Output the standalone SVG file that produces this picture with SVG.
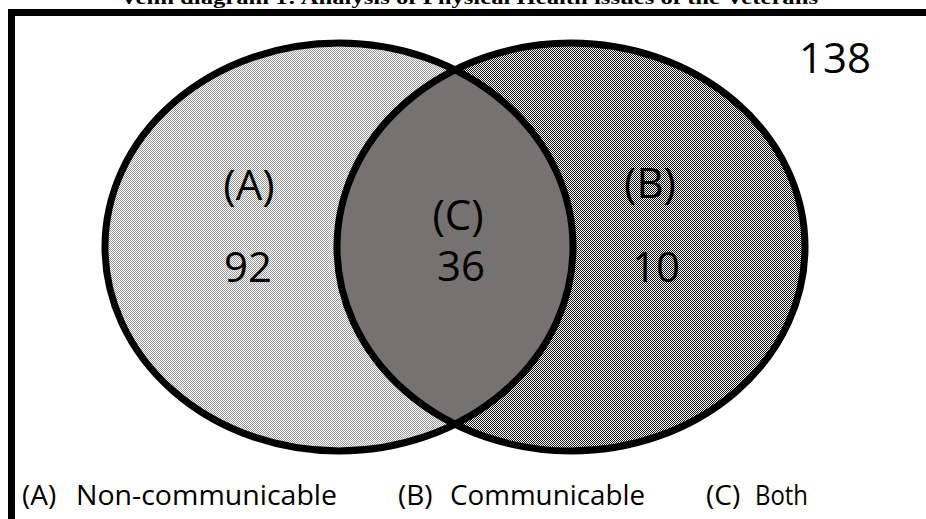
<svg xmlns="http://www.w3.org/2000/svg" width="926" height="519" viewBox="0 0 926 519">
<defs>
<pattern id="pA" width="2" height="2" patternUnits="userSpaceOnUse">
<rect width="2" height="2" fill="#ffffff"/>
<rect width="1" height="1" fill="#9a9a9a"/>
<rect x="1" y="1" width="1" height="1" fill="#9a9a9a"/>
</pattern>
<pattern id="pB" width="2" height="2" patternUnits="userSpaceOnUse">
<rect width="2" height="2" fill="#ffffff"/>
<rect width="1" height="1" fill="#1a1a1a"/>
<rect x="1" y="1" width="1" height="1" fill="#1a1a1a"/>
</pattern>
<clipPath id="clipA">
<ellipse cx="339" cy="247" rx="234" ry="204"/>
</clipPath>
<style>
.lbl{font-family:"Open Sans","Noto Sans","DejaVu Sans",sans-serif;font-size:42px;fill:#000;text-anchor:middle}
.leg{font-family:"Open Sans","Noto Sans","DejaVu Sans",sans-serif;font-size:28px;fill:#000}
.ring{fill:none;stroke:#000;stroke-width:7}
</style>
</defs>
<rect width="926" height="519" fill="#ffffff"/>
<text x="469" y="4" font-family="'Liberation Serif',serif" font-weight="bold" font-size="18" text-anchor="middle" textLength="698" lengthAdjust="spacingAndGlyphs">Venn diagram 1: Analysis of Physical Health issues of the Veterans</text>
<g id="frame">
<rect x="11.5" y="12.5" width="930" height="520" fill="none" stroke="#000" stroke-width="7"/>
</g>
<g id="setA">
<ellipse cx="339" cy="247" rx="234" ry="204" fill="url(#pA)"/>
</g>
<g id="setB">
<ellipse cx="571" cy="247" rx="234" ry="204" fill="url(#pB)"/>
</g>
<g id="setC">
<ellipse cx="571" cy="247" rx="234" ry="204" fill="#767271" clip-path="url(#clipA)"/>
</g>
<g id="outlines">
<ellipse class="ring" cx="339" cy="247" rx="234" ry="204"/>
<ellipse class="ring" cx="571" cy="247" rx="234" ry="204"/>
</g>
<g id="labels">
<text class="lbl" x="249" y="200">(A)</text>
<text class="lbl" x="248" y="282">92</text>
<text class="lbl" x="458" y="230">(C)</text>
<text class="lbl" x="461" y="281">36</text>
<text class="lbl" x="650" y="198">(B)</text>
<text class="lbl" x="656" y="282">10</text>
<text class="lbl" x="835" y="73" font-size="44">138</text>
</g>
<g id="legend">
<text class="leg" x="22" y="505">(A)</text>
<text class="leg" x="76" y="505" textLength="261" lengthAdjust="spacingAndGlyphs">Non-communicable</text>
<text class="leg" x="398" y="505">(B)</text>
<text class="leg" x="450" y="505" textLength="195" lengthAdjust="spacingAndGlyphs">Communicable</text>
<text class="leg" x="706" y="505">(C)</text>
<text class="leg" x="755" y="505" textLength="53" lengthAdjust="spacingAndGlyphs">Both</text>
</g>
</svg>
